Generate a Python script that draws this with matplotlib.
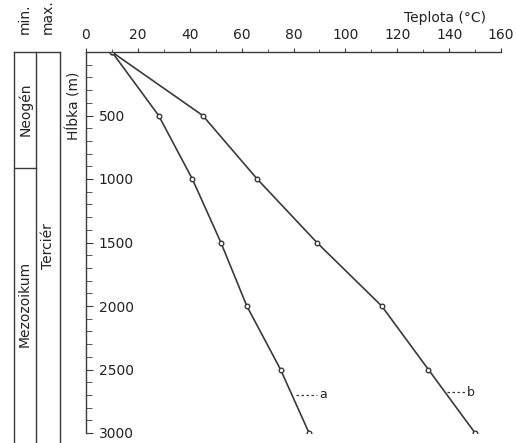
import matplotlib
matplotlib.use("Agg")
import matplotlib.pyplot as plt
from matplotlib.ticker import MultipleLocator

depth = [0, 500, 1000, 1500, 2000, 2500, 3000]
temp_a = [10, 28, 41, 52, 62, 75, 86]
temp_b = [10, 45, 66, 89, 114, 132, 150]
xticks = [0, 20, 40, 60, 80, 100, 120, 140, 160]
yticks = [500, 1000, 1500, 2000, 2500, 3000]
boundary_depth = 910

plt.rcParams['font.family'] = ['DejaVu Sans']
plt.rcParams['font.size'] = 10
col = '#3a3a3a'

W, H = 516, 443
TOP, BOT = 52, 433
fig = plt.figure(figsize=(W / 100, H / 100), dpi=100)
ax = fig.add_axes([86 / W, 1 - BOT / H, (501 - 86) / W, (BOT - TOP) / H])

ax.plot(temp_a, depth, color=col, lw=1.2, marker='o', ms=3.3, mfc='white', mec=col, mew=1.0)
ax.plot(temp_b, depth, color=col, lw=1.2, marker='o', ms=3.3, mfc='white', mec=col, mew=1.0)

ax.set_xlim(0, 160)
ax.set_ylim(3000, 0)
for s in ['right', 'bottom']:
    ax.spines[s].set_visible(False)
for s in ['top', 'left']:
    ax.spines[s].set_color(col)
    ax.spines[s].set_linewidth(1.0)

ax.xaxis.set_ticks_position('top')
ax.set_xticks(xticks)
ax.xaxis.set_minor_locator(MultipleLocator(10))
ax.tick_params(axis='x', which='major', direction='out', length=3, pad=4, colors=col, labelcolor='#222')
ax.tick_params(axis='x', which='minor', direction='out', length=2.5, colors=col)

ax.set_yticks(yticks)
ax.yaxis.set_minor_locator(MultipleLocator(100))
ax.tick_params(axis='y', which='major', direction='in', length=5, pad=-9, colors=col, labelcolor='#222')
ax.tick_params(axis='y', which='minor', direction='in', length=4, colors=col)
for lab in ax.get_yticklabels():
    lab.set_horizontalalignment('left')

ax.set_ylabel('Hĺbka (m)', rotation=90, color='#222')
ax.yaxis.set_label_coords(-0.012, 0.86)
ax.text(0.865, 1.09, 'Teplota (°C)', transform=ax.transAxes, ha='center', va='center', color='#222')

# curve labels
ax.plot([81, 89], [2700, 2700], color=col, lw=0.9, ls=(0, (2, 2)))
ax.text(90, 2700, 'a', ha='left', va='center', color='#222', fontsize=9)
ax.plot([139, 146], [2680, 2680], color=col, lw=0.9, ls=(0, (2, 2)))
ax.text(147, 2680, 'b', ha='left', va='center', color='#222', fontsize=9)

# stratigraphic column
tx = fig.add_axes([14 / W, 1 - BOT / H, (60 - 14) / W, (BOT - TOP) / H])
tx.set_xlim(0, 2)
tx.set_ylim(3000, 0)
tx.axis('off')
for xv in [0, 0.96, 2]:
    tx.plot([xv, xv], [0, 3100], color=col, lw=1.0, clip_on=False)
tx.plot([0, 2], [0, 0], color=col, lw=1.0, clip_on=False)
tx.plot([0, 0.96], [boundary_depth, boundary_depth], color=col, lw=1.0)
tx.text(0.48, 450, 'Neogén', rotation=90, ha='center', va='center', color='#222')
tx.text(0.48, 1980, 'Mezozoikum', rotation=90, ha='center', va='center', color='#222')
tx.text(1.48, 1530, 'Terciér', rotation=90, ha='center', va='center', color='#222')
tx.text(0.48, -140, 'min.', rotation=90, ha='center', va='bottom', color='#222')
tx.text(1.48, -140, 'max.', rotation=90, ha='center', va='bottom', color='#222')

fig.savefig('out.png', dpi=100, facecolor='white')
